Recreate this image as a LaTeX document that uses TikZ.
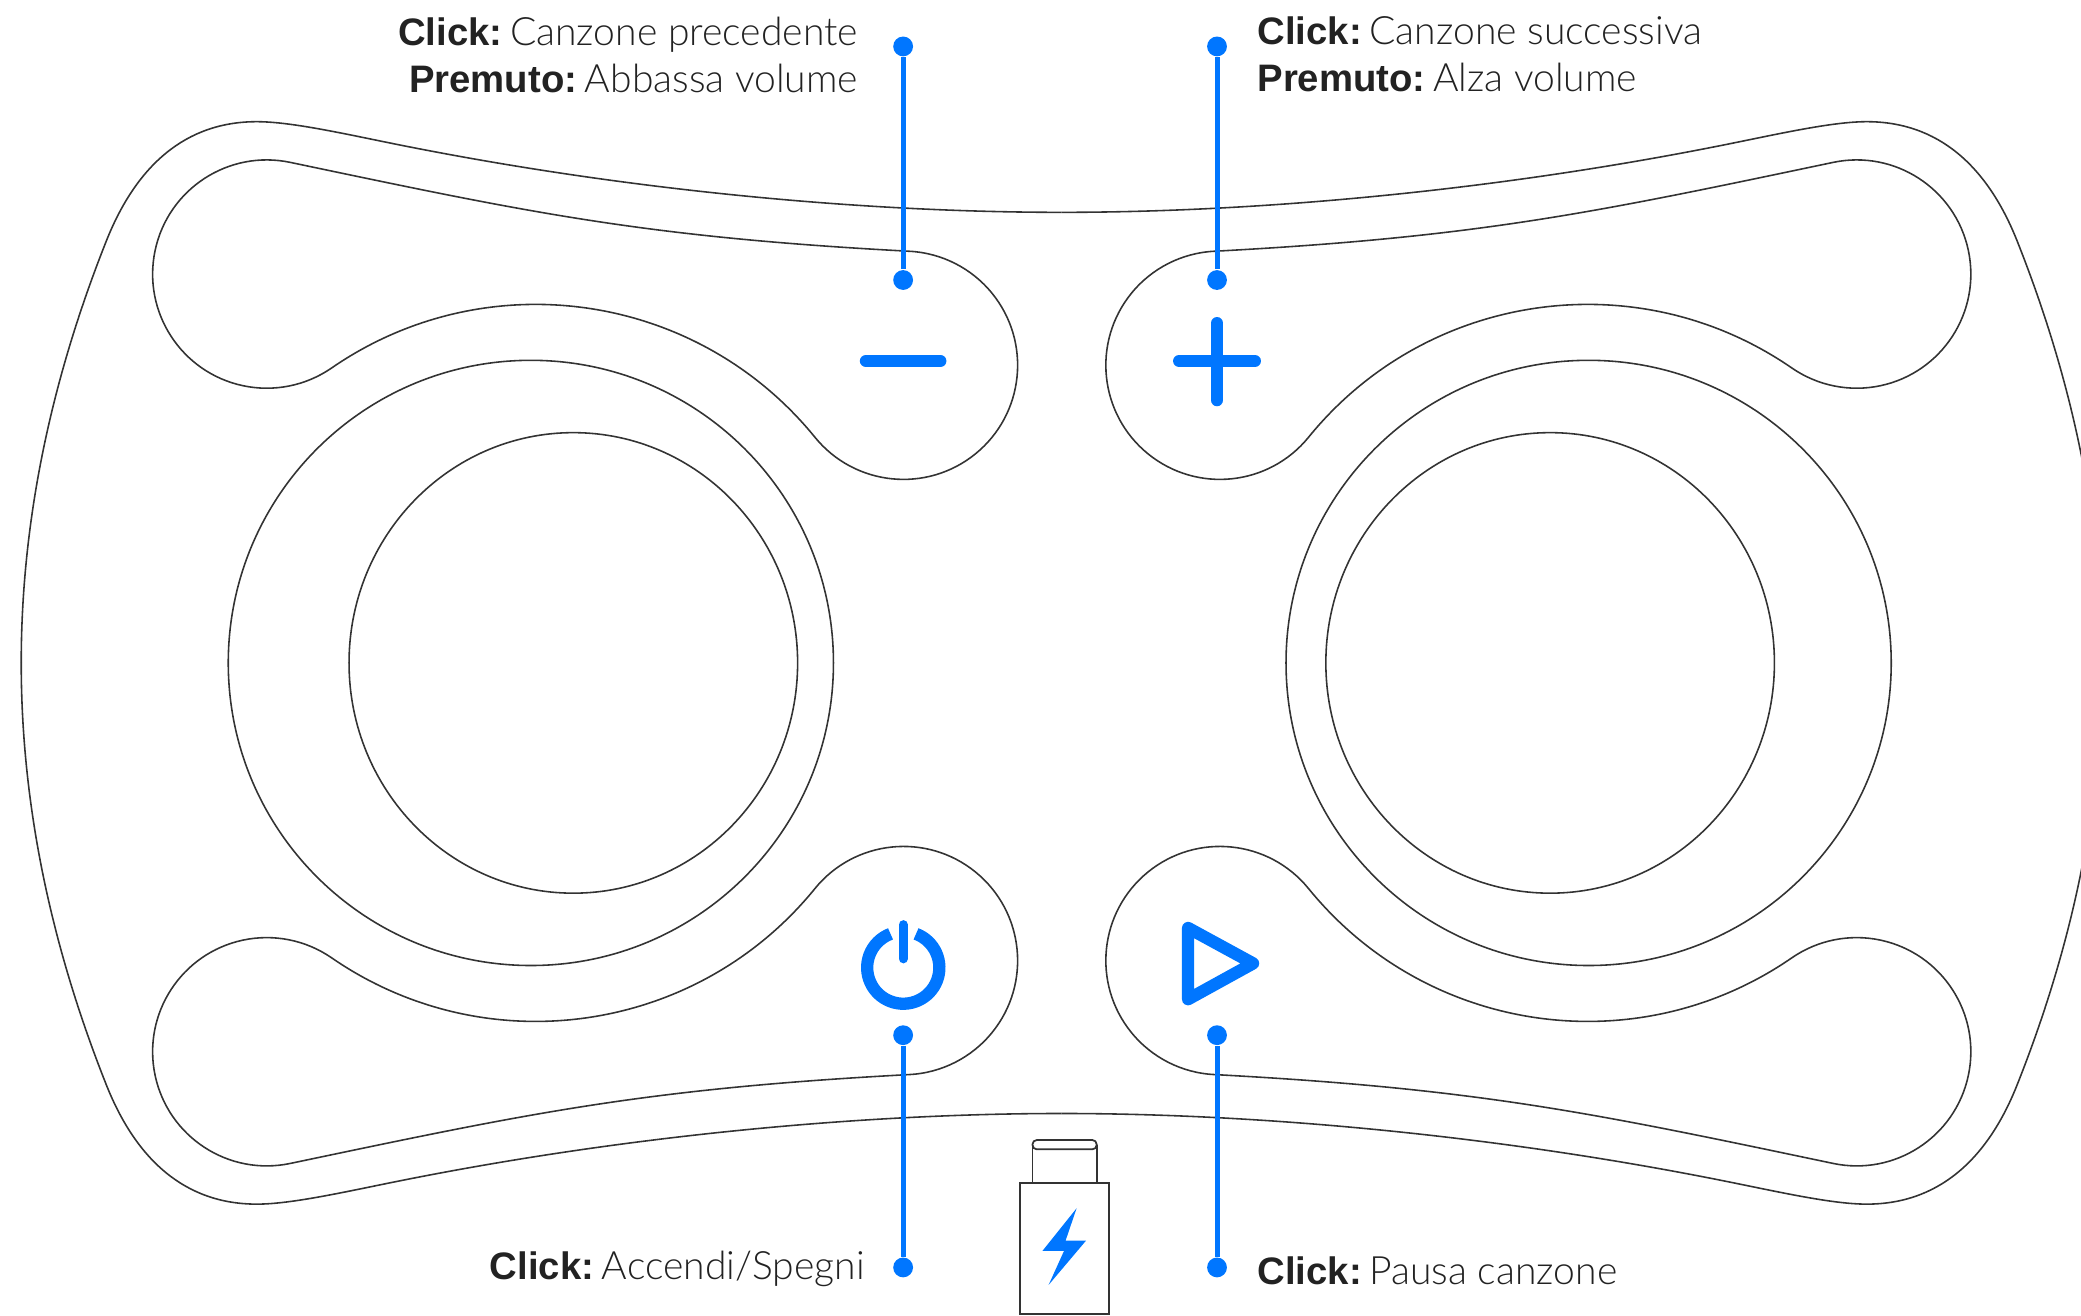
\documentclass[tikz,border=0pt]{standalone}
\usepackage{fontspec}
\setmainfont{Liberation Sans}
\newfontfamily\lightfont[Scale=1.02]{Lato Light}
\definecolor{btnblue}{HTML}{0076FF}
\definecolor{outl}{HTML}{333333}
\definecolor{capt}{HTML}{222222}
\tikzset{
    outline/.style={draw=outl, line width=0.45pt},
    bluedot/.style={circle, fill=btnblue, draw=none, inner sep=0mm, minimum size=5.64pt},
    leadline/.style={draw=btnblue, line width=1.42pt},
    glyph/.style={draw=btnblue, line width=3.5pt, line cap=round, line join=round},
    caption/.style={inner sep=0mm, text=capt, font=\fontsize{10.9}{13.4}\selectfont}
}
\newcommand{\lbl}[2]{\textbf{#1}\hspace{2.2pt}{\lightfont #2}}

\begin{document}
\begin{tikzpicture}[x=0.013272cm, y=0.013272cm]
    \path[use as bounding box, clip] (-800,-491.5) rectangle (768,499.5);

    \foreach \sx/\sy in {1/1, -1/1, 1/-1, -1/-1} {
        \draw[outline, xscale=\sx, yscale=\sy] (-784,0)
            .. controls (-784,110) and (-760.3,216.3) .. (-719.6,318.6)
            .. controls (-697,375) and (-660,407.8) .. (-606.5,407.8)
            .. controls (-580,407.8) and (-538.5,398.2) .. (-498.5,390.2)
            .. controls (-328.5,356.2) and (-150,339.5) .. (0,339.5);
        \draw[outline, xscale=\sx, yscale=\sy] (-581.1,377.1)
            arc[start angle=78, end angle=304.6, radius=86]
            arc[start angle=124.6, end angle=39.1, radius=271]
            arc[start angle=219.1, end angle=447, radius=86]
            .. controls (-315.5,320.9) and (-401.1,339.3) .. cycle;
    }

    \draw[outline] (-400,0) circle[radius=228];
    \draw[outline] (-368,0) circle[x radius=169, y radius=173.5];
    \draw[outline] (397,0) circle[radius=228];
    \draw[outline] (368,0) circle[x radius=169, y radius=173.5];

    \draw[glyph] (-147.5,227.5) -- (-91.5,227.5);
    \draw[glyph] (88.5,227.5) -- (145.5,227.5);
    \draw[glyph] (117,198) -- (117,256);

    \draw[glyph, line cap=butt] (-119.4,-229.6) ++(69.3:27.2)
        arc[start angle=69.3, end angle=-249.3, radius=27.2];
    \draw[btnblue, line width=2.63pt, line cap=round] (-119.4,-197.3) -- (-119.4,-222.9);
    \draw[glyph] (95.2,-199.7) -- (95.2,-253.4) -- (144.2,-226.4) -- cycle;

    \draw[outline, line width=0.5pt] (-31.4,-392.1) rectangle (35.6,-490.8);
    \draw[outline, line width=0.5pt] (-22,-392.1) -- (-22,-363) (26.3,-392.1) -- (26.3,-363);
    \draw[outline, line width=0.5pt, rounded corners=1.2pt] (-22,-359.5) rectangle (26.3,-366.5);
    \fill[btnblue] (11.2,-410.9) -- (-14.6,-443.1) -- (1.7,-443.1) -- (-9.9,-468.7)
        -- (18.3,-435.3) -- (2.9,-435.3) -- cycle;

    \node (minustop) at (-119.5,464.5) [bluedot] {};
    \node (minusend) at (-119.5,288.5) [bluedot] {};
    \node (plustop) at (117,464.5) [bluedot] {};
    \node (plusend) at (117,288.5) [bluedot] {};
    \node (powertop) at (-119.5,-280.5) [bluedot] {};
    \node (powerend) at (-119.5,-455.5) [bluedot] {};
    \node (playtop) at (117,-280.5) [bluedot] {};
    \node (playend) at (117,-455.5) [bluedot] {};

    \draw[leadline] (minustop) -- (minusend);
    \draw[leadline] (plustop) -- (plusend);
    \draw[leadline] (powertop) -- (powerend);
    \draw[leadline] (playtop) -- (playend);

    \node (capminus) at (-153,487.5) [caption, anchor=north east, align=right]
        {\lbl{Click:}{Canzone precedente}\\ \lbl{Premuto:}{Abbassa volume}};
    \node (capplus) at (147,487.5) [caption, anchor=north west, align=left]
        {\lbl{Click:}{Canzone successiva}\\ \lbl{Premuto:}{Alza volume}};
    \node (cappower) at (-148,-464.5) [caption, anchor=base east]
        {\lbl{Click:}{Accendi/Spegni}};
    \node (capplay) at (147,-468.5) [caption, anchor=base west]
        {\lbl{Click:}{Pausa canzone}};
\end{tikzpicture}
\end{document}
